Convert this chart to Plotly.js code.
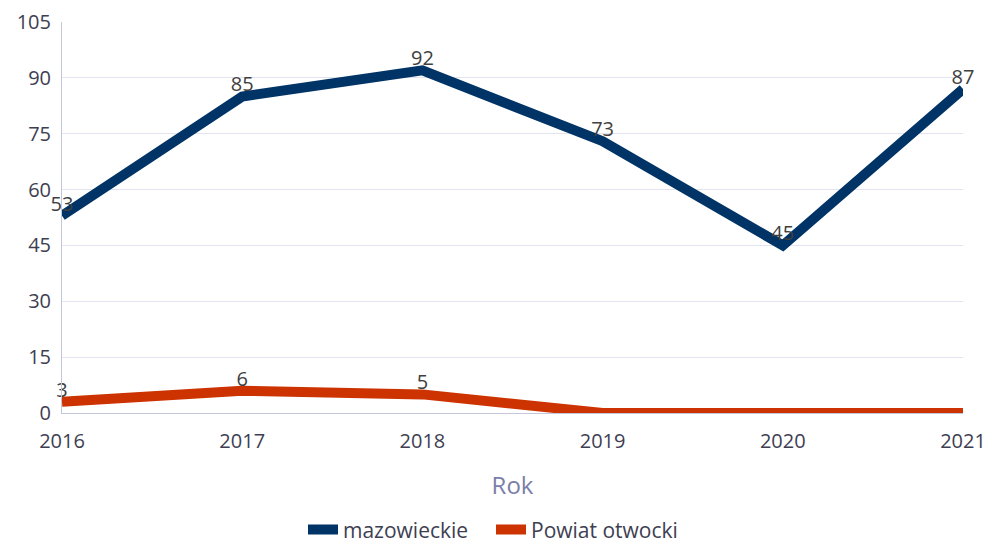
<!DOCTYPE html>
<html><head><meta charset="utf-8">
<script src="https://cdn.plot.ly/plotly-3.0.1.min.js"></script>
<style>html,body{margin:0;padding:0;background:#fff}#chart{width:987px;height:545px}</style>
</head><body><div id="chart"></div>
<script>
const years = [2016, 2017, 2018, 2019, 2020, 2021];
const mazowieckie = [53, 85, 92, 73, 45, 87];
const powiatOtwocki = [3, 6, 5, 0, 0, 0];
const yTicks = [0, 15, 30, 45, 60, 75, 90, 105];

const lbl = arr => arr.map(v => v === 0 ? '' : String(v));

const data = [
  {x: years, y: mazowieckie, name: 'mazowieckie', mode: 'lines+text', type: 'scatter',
   line: {color: '#003366', width: 10}, text: lbl(mazowieckie), textposition: 'top center',
   textfont: {family: 'Open Sans', size: 20, color: '#404040'}, cliponaxis: false, hoverinfo: 'skip'},
  {x: years, y: powiatOtwocki, name: 'Powiat otwocki', mode: 'lines+text', type: 'scatter',
   line: {color: '#CC3300', width: 10}, text: lbl(powiatOtwocki), textposition: 'top center',
   textfont: {family: 'Open Sans', size: 20, color: '#404040'}, cliponaxis: false, hoverinfo: 'skip'}
];

const layout = {
  width: 987, height: 545,
  margin: {l: 62, r: 24, t: 22, b: 132},
  paper_bgcolor: '#fff', plot_bgcolor: '#fff',
  font: {family: 'Open Sans', size: 20, color: '#3e3e52'},
  showlegend: true,
  legend: {orientation: 'h', xref: 'container', yref: 'container',
           x: 0.307, xanchor: 'left', y: 0.028, yanchor: 'middle',
           font: {size: 21, color: '#3e3e52'}, itemwidth: 30, entrywidth: 143, traceorder: 'normal'},
  xaxis: {range: [2016, 2021], tickvals: years, ticktext: years.map(String), showgrid: false,
          zeroline: false, showline: true, linecolor: '#c4c6dc', linewidth: 1,
          ticks: 'outside', ticklen: 10, tickcolor: 'rgba(0,0,0,0)', automargin: false,
          tickfont: {size: 20, color: '#3e3e52'},
          title: {text: 'Rok', font: {size: 24, color: '#7a7ea8'}, standoff: 24}},
  yaxis: {range: [0, 105], tickvals: yTicks, showgrid: true, gridcolor: '#e2e3ee', gridwidth: 1,
          zeroline: false, showline: true, linecolor: '#c4c6dc', linewidth: 1,
          ticks: 'outside', ticklen: 6, tickcolor: 'rgba(0,0,0,0)', automargin: false,
          tickfont: {size: 20, color: '#3e3e52'}}
};

Plotly.newPlot('chart', data, layout, {displayModeBar: false, staticPlot: true});
</script></body></html>
